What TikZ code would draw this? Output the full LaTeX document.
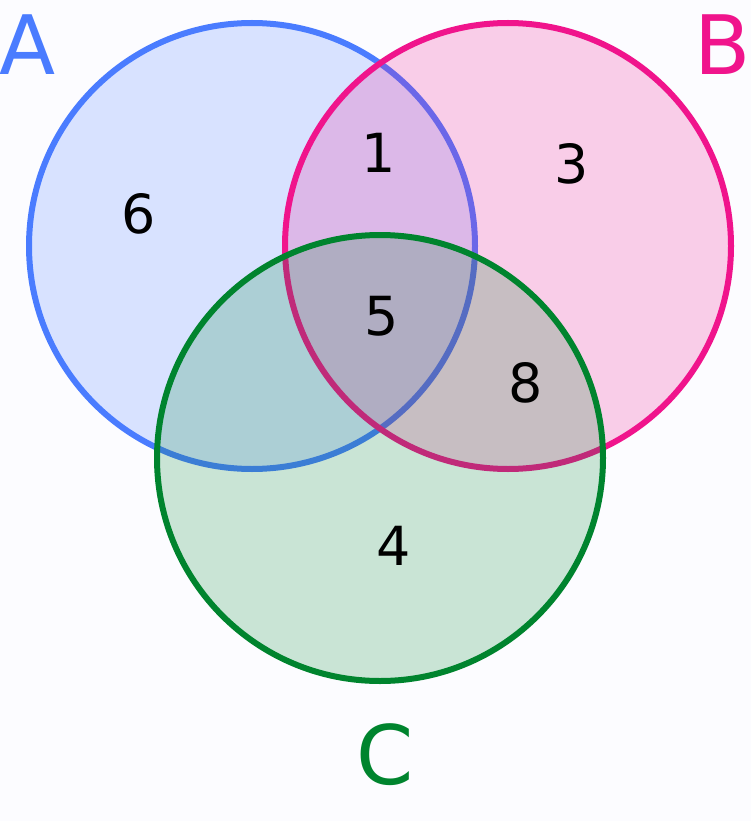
\documentclass[tikz,border=0pt]{standalone}
\usepackage{fontspec}
\setmainfont{DejaVu Sans}
\definecolor{setA}{HTML}{4A7CFF}
\definecolor{setB}{HTML}{F0148C}
\definecolor{setC}{HTML}{00842E}
\begin{document}
\begin{tikzpicture}[x=0.03cm, y=-0.03cm,
    ring/.style={line width=0.18cm, fill opacity=0.2},
    count/.style={font=\fontsize{46}{50}\selectfont},
    setname/.style={font=\fontsize{70}{74}\selectfont}]

\useasboundingbox[fill=blue!1] (0,0) rectangle (751,821);

% Sets
\draw[ring, draw=setA, fill=setA] (252,246) circle[radius=223];
\draw[ring, draw=setB, fill=setB] (508,246) circle[radius=223];
\draw[ring, draw=setC, fill=setC] (380,458) circle[radius=223];

% Set names
\node[setname, text=setA] (nameA) at (28,45) {A};
\node[setname, text=setB] (nameB) at (723,45) {B};
\node[setname, text=setC] (nameC) at (385,755) {C};

% Counts
\node[count] (onlyA) at (139,214) {6};
\node[count] (onlyB) at (572,164) {3};
\node[count] (onlyC) at (394,546) {4};
\node[count] (ab) at (379,153) {1};
\node[count] (bc) at (526,383) {8};
\node[count] (abc) at (382,316) {5};

\end{tikzpicture}
\end{document}
